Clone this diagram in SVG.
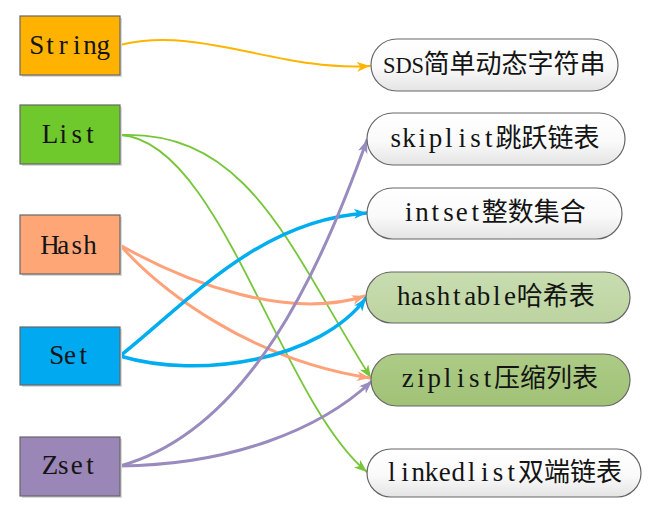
<svg xmlns="http://www.w3.org/2000/svg" width="670" height="525" viewBox="0 0 670 525">
<style>
.box{stroke:#666;stroke-width:1.2}
.sh{fill:#d9d9d9}
.lt{font-family:"Liberation Serif","Times New Roman",serif;font-size:27px;fill:#141414}
.cj{font-family:"Noto Sans CJK SC","Noto Sans CJK JP",sans-serif;font-size:26px}
.pill{stroke:#666;stroke-width:1.2}
.c{fill:none;stroke-linecap:round}
</style>
<defs>
<linearGradient id="gw" x1="0" y1="0" x2="0" y2="1">
<stop offset="0" stop-color="#ffffff"/><stop offset="0.55" stop-color="#fafafa"/><stop offset="1" stop-color="#e4e4e4"/>
</linearGradient>
<linearGradient id="gh" x1="0" y1="0" x2="0" y2="1">
<stop offset="0" stop-color="#c9ddb0"/><stop offset="1" stop-color="#bcd4a0"/>
</linearGradient>
<linearGradient id="gz" x1="0" y1="0" x2="0" y2="1">
<stop offset="0" stop-color="#adcb86"/><stop offset="1" stop-color="#a0c276"/>
</linearGradient>
<marker id="aY" markerUnits="userSpaceOnUse" markerWidth="14" markerHeight="12" refX="13" refY="5" orient="auto"><path d="M0,0 L13,5 L0,10 L3.5,5 z" fill="#FFB400"/></marker>
<marker id="aG" markerUnits="userSpaceOnUse" markerWidth="14" markerHeight="12" refX="13" refY="5" orient="auto"><path d="M0,0 L13,5 L0,10 L3.5,5 z" fill="#77C63A"/></marker>
<marker id="aO" markerUnits="userSpaceOnUse" markerWidth="14" markerHeight="12" refX="13" refY="5" orient="auto"><path d="M0,0 L13,5 L0,10 L3.5,5 z" fill="#FFA27A"/></marker>
<marker id="aB" markerUnits="userSpaceOnUse" markerWidth="14" markerHeight="12" refX="13" refY="5" orient="auto"><path d="M0,0 L13,5 L0,10 L3.5,5 z" fill="#00AEEF"/></marker>
<marker id="aP" markerUnits="userSpaceOnUse" markerWidth="14" markerHeight="12" refX="13" refY="5" orient="auto"><path d="M0,0 L13,5 L0,10 L3.5,5 z" fill="#9A8BBE"/></marker>
</defs>
<rect width="670" height="525" fill="#ffffff"/>

<g id="connectors">
<path class="c" stroke="#FFB400" stroke-width="2" d="M120,45 C200,25 280,72 370,66" marker-end="url(#aY)"/>
<path class="c" stroke="#77C63A" stroke-width="1.8" d="M120,135 C250,130 290,250 371,378" marker-end="url(#aG)"/>
<path class="c" stroke="#77C63A" stroke-width="1.8" d="M120,135 C220,140 280,400 367,472" marker-end="url(#aG)"/>
<path class="c" stroke="#FFA27A" stroke-width="3" d="M120,245 C190,285 290,320 365,296" marker-end="url(#aO)"/>
<path class="c" stroke="#FFA27A" stroke-width="3" d="M120,245 C160,290 250,360 370,378" marker-end="url(#aO)"/>
<path class="c" stroke="#00AEEF" stroke-width="3.5" d="M120,356 C190,300 260,220 367,213" marker-end="url(#aB)"/>
<path class="c" stroke="#00AEEF" stroke-width="3.5" d="M120,356 C200,380 320,360 366,298" marker-end="url(#aB)"/>
<path class="c" stroke="#9A8BBE" stroke-width="3" d="M120,466 C250,430 320,270 367,140" marker-end="url(#aP)"/>
<path class="c" stroke="#9A8BBE" stroke-width="3" d="M120,466 C230,465 320,430 372,381" marker-end="url(#aP)"/>
</g>

<g id="String">
<rect class="sh" x="22" y="18" width="100" height="59"/>
<rect class="box" x="20" y="16" width="100" height="59" fill="#FFB300"/>
<text class="lt" x="29.24 46.3 58.86 72.9 83.2 96.5" y="54">String</text>
</g>
<g id="List">
<rect class="sh" x="22" y="107" width="100" height="59"/>
<rect class="box" x="20" y="105" width="100" height="59" fill="#6FC92C"/>
<text class="lt" x="41.8 59.6 71.4 86.2" y="143">List</text>
</g>
<g id="Hash">
<rect class="sh" x="22" y="217" width="100" height="59"/>
<rect class="box" x="20" y="215" width="100" height="59" fill="#FFA677"/>
<text class="lt" x="40.3 57.36 71.4 83.2" y="254">Hash</text>
</g>
<g id="Set">
<rect class="sh" x="22" y="329" width="100" height="58"/>
<rect class="box" x="20" y="327" width="100" height="58" fill="#00A9F0" stroke="#b8a0a8"/>
<text class="lt" x="49.19 64.01 79.55" y="364">Set</text>
</g>
<g id="Zset">
<rect class="sh" x="22" y="439" width="100" height="59"/>
<rect class="box" x="20" y="437" width="100" height="59" fill="#9A86B7"/>
<text class="lt" x="41.8 58.1 70.66 86.2" y="474">Zset</text>
</g>

<g id="SDS">
<rect class="pill" x="371" y="39" width="247" height="52" rx="26" fill="url(#gw)"/>
<text class="lt" y="73"><tspan x="383 395.5 411.4" font-size="22.5">SDS</tspan><tspan class="cj" x="423.5">简单动态字符串</tspan></text>
</g>
<g id="skiplist">
<rect class="pill" x="367" y="113" width="258" height="52" rx="26" fill="url(#gw)"/>
<text class="lt" x="390.4 402.2 418.5 428.8 445.1 458.4 470.2 485.0" y="147">skiplist<tspan class="cj" x="495.4">跳跃链表</tspan></text>
</g>
<g id="intset">
<rect class="pill" x="367" y="188" width="255" height="51" rx="25.5" fill="url(#gw)"/>
<text class="lt" x="404.9 415.2 431.5 443.3 455.86 471.4" y="221">intset<tspan class="cj" x="481.8">整数集合</tspan></text>
</g>
<g id="hashtable">
<rect class="pill" x="366" y="272" width="264" height="51" rx="25.5" fill="url(#gh)"/>
<text class="lt" x="396.9 410.96 425.0 436.8 453.1 464.16 476.7 493.0 504.06" y="305">hashtable<tspan class="cj" x="516.7">哈希表</tspan></text>
</g>
<g id="ziplist">
<rect class="pill" x="371" y="354" width="259" height="52" rx="26" fill="url(#gz)"/>
<text class="lt" x="401.66 417.2 427.5 443.8 457.1 468.9 483.7" y="387">ziplist<tspan class="cj" x="494.1">压缩列表</tspan></text>
</g>
<g id="linkedlist">
<rect class="pill" x="367" y="449" width="274" height="48" rx="24" fill="url(#gw)"/>
<text class="lt" x="387.9 401.2 411.5 424.8 438.86 451.4 467.7 481.0 492.8 507.6" y="481">linkedlist<tspan class="cj" x="518">双端链表</tspan></text>
</g>
</svg>
